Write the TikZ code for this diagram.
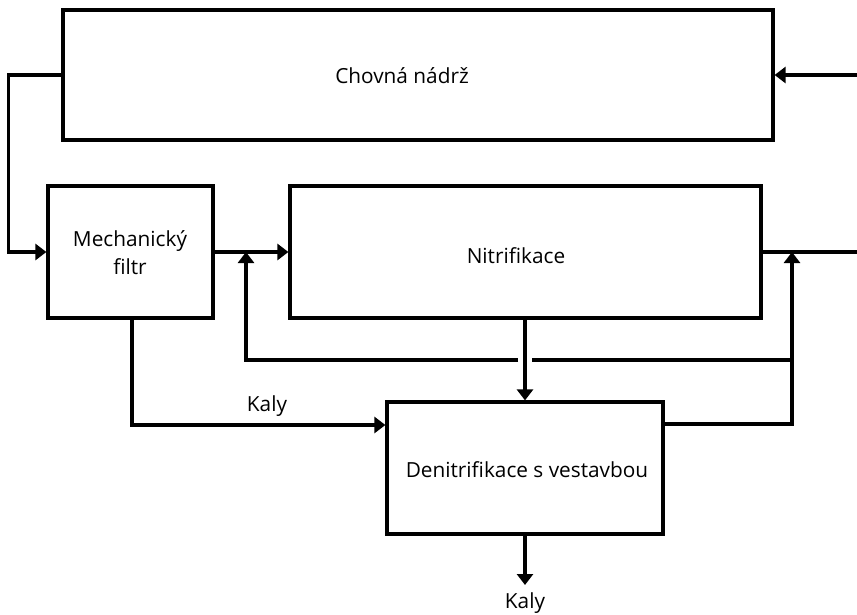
\documentclass[tikz,border=0pt]{standalone}
\usepackage{fontspec}
\setmainfont{Open Sans}
\usetikzlibrary{arrows.meta}
\begin{document}
\begin{tikzpicture}[x=1pt,y=-1pt,
  unit/.style={draw, line width=3.2pt, inner sep=0pt},
  txt/.style={font=\fontsize{20.8}{28}\selectfont, align=center, inner sep=0pt},
  flow/.style={line width=3.2pt},
  arr/.style={flow, -{Triangle[length=11pt,width=16pt]}}]
\useasboundingbox (0,0) rectangle (857,614);

% process units
\node[unit, minimum width=710pt, minimum height=130pt] (tank)   at (418,75)  {};
\node[unit, minimum width=165pt, minimum height=132pt] (filter) at (130.5,252) {};
\node[unit, minimum width=471pt, minimum height=132pt] (nitri)  at (525.5,252) {};
\node[unit, minimum width=276pt, minimum height=132pt] (deni)   at (525,468) {};

% unit names
\node[txt] (tankname)   at (402,76)  {Chovná nádrž};
\node[txt] (filtername) at (130,253) {Mechanický\\filtr};
\node[txt] (nitriname)  at (516,256) {Nitrifikace};
\node[txt] (deniname)   at (527,470) {Denitrifikace s vestavbou};

% free ends and junctions
\coordinate (inlet)  at (857,75);
\coordinate (outlet) at (857,252);
\coordinate (rise)   at (792,252);
\coordinate (rj)     at (792,360);
\coordinate (gapR)   at (532,360);
\coordinate (gapL)   at (518,360);
\coordinate (back)   at (246,252);
\coordinate (sludge) at (525,585);

% water path
\draw[arr] (inlet) -- (tank.east);
\draw[arr] (tank.west) -- ++(-53,0) |- (filter.west);
\draw[arr] (filter.east) -- (nitri.west);
\draw[flow] (nitri.east) -- (outlet);
\draw[arr] (nitri.south -| deni.north) -- (deni.north);

% recirculation from denitrification
\draw[arr] ([yshift=44pt]deni.east) -| (rise);
\draw[flow] (rj) -- (gapR);
\draw[arr] (gapL) -| (back);

% sludge lines
\draw[arr] ([xshift=1.5pt]filter.south) |- ([yshift=43pt]deni.west);
\node[txt] (kaly1) at (267,406) {Kaly};
\draw[arr] (deni.south) -- (sludge);
\node[txt] (kaly2) at (525,603) {Kaly};
\end{tikzpicture}
\end{document}
